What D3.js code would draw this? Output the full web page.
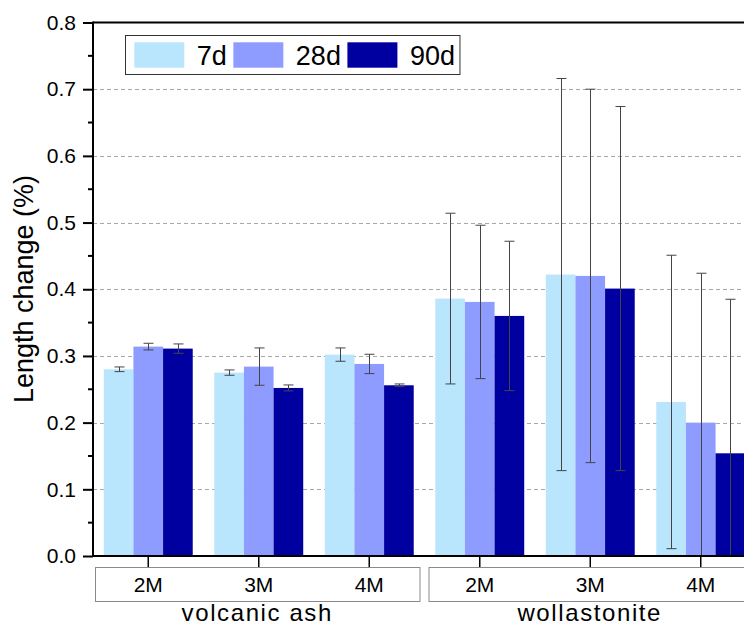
<!DOCTYPE html>
<html>
<head>
<meta charset="utf-8">
<script src="https://cdn.jsdelivr.net/npm/d3@7"></script>
<style>
  html, body { margin: 0; padding: 0; background: #fff; }
  svg { display: block; font-family: Arial, "Liberation Sans", sans-serif; }
</style>
</head>
<body>
<svg id="chart" width="744" height="626"></svg>
<script>
// Length change of mortar bars at 7, 28 and 90 days
const groups = ["volcanic ash", "wollastonite"];
const mixes = ["2M", "3M", "4M"];
const series = ["7d", "28d", "90d"];
const seriesColors = ["#B9E5FD", "#8F9CFF", "#0000A0"];

// values per category: volcanic ash 2M,3M,4M then wollastonite 2M,3M,4M
const values7d  = [0.280, 0.275, 0.302, 0.386, 0.422, 0.231];
const values28d = [0.314, 0.284, 0.288, 0.381, 0.420, 0.200];
const values90d = [0.311, 0.252, 0.256, 0.360, 0.401, 0.154];
const err7d  = [0.0035, 0.004, 0.010, 0.128, 0.294, 0.220];
const err28d = [0.005, 0.028, 0.0145, 0.115, 0.280, 0.224];
const err90d = [0.007, 0.0045, 0.002, 0.112, 0.273, 0.231];

const yTicks = [0, 0.1, 0.2, 0.3, 0.4, 0.5, 0.6, 0.7, 0.8];
const yLabel = "Length change (%)";

const seriesValues = [values7d, values28d, values90d];
const seriesErrors = [err7d, err28d, err90d];

const categories = [];
groups.forEach(g => mixes.forEach(m => categories.push({ key: g + "|" + m, group: g, mix: m })));

const svg = d3.select("#chart");
const plotLeft = 93, plotTop = 22.5, plotBottom = 556, plotRight = 756;

const x = d3.scaleBand()
  .domain(categories.map(c => c.key))
  .range([plotLeft, plotRight])
  .paddingInner(0.195)
  .paddingOuter(0.0975);
const xs = d3.scaleBand().domain(series).range([0, x.bandwidth()]);
const y = d3.scaleLinear().domain([0, 0.8]).range([plotBottom, plotTop]);

svg.append("defs").append("clipPath").attr("id", "plotClip")
  .append("rect").attr("x", plotLeft).attr("y", plotTop)
  .attr("width", plotRight - plotLeft).attr("height", plotBottom - plotTop);

// dashed grid
svg.append("g").selectAll("line")
  .data(yTicks.filter(t => t > 0 && t < 0.8))
  .join("line")
  .attr("x1", plotLeft).attr("x2", plotRight)
  .attr("y1", d => Math.round(y(d)) + 0.5).attr("y2", d => Math.round(y(d)) + 0.5)
  .attr("stroke", "#a8a8a8").attr("stroke-width", 1).attr("stroke-dasharray", "4,3");

// bars
const plot = svg.append("g").attr("clip-path", "url(#plotClip)");
series.forEach((s, si) => {
  plot.append("g").selectAll("rect")
    .data(categories)
    .join("rect")
    .attr("x", d => x(d.key) + xs(s))
    .attr("y", (d, i) => y(seriesValues[si][i]))
    .attr("width", xs.bandwidth())
    .attr("height", (d, i) => plotBottom - y(seriesValues[si][i]))
    .attr("fill", seriesColors[si]);
});

// error bars
series.forEach((s, si) => {
  const g = plot.append("g").attr("stroke", "#444").attr("stroke-width", 1);
  categories.forEach((d, i) => {
    const cx = Math.round(x(d.key) + xs(s) + xs.bandwidth() / 2) + 0.5;
    const v = seriesValues[si][i], e = seriesErrors[si][i];
    const y1 = y(v + e), y2 = y(v - e);
    g.append("line").attr("x1", cx).attr("x2", cx).attr("y1", y1).attr("y2", y2);
    g.append("line").attr("x1", cx - 5).attr("x2", cx + 5).attr("y1", y1).attr("y2", y1);
    g.append("line").attr("x1", cx - 5).attr("x2", cx + 5).attr("y1", y2).attr("y2", y2);
  });
});

// y axis with major and minor ticks
const yAxis = svg.append("g").attr("transform", `translate(${plotLeft},0)`)
  .call(d3.axisLeft(y).tickValues(yTicks).tickFormat(d3.format(".1f")).tickSize(10).tickPadding(7));
yAxis.select(".domain").remove();
yAxis.selectAll(".tick line").attr("stroke", "#000").attr("stroke-width", 2);
yAxis.selectAll(".tick text").attr("font-size", 21).attr("fill", "#000")
  .attr("font-family", "Arial, 'Liberation Sans', sans-serif");
const minorTicks = d3.range(0.05, 0.8, 0.1);
svg.append("g").selectAll("line").data(minorTicks).join("line")
  .attr("x1", plotLeft - 5).attr("x2", plotLeft)
  .attr("y1", d => y(d)).attr("y2", d => y(d))
  .attr("stroke", "#000").attr("stroke-width", 2);

// frame lines: left axis, top, bottom
svg.append("line").attr("x1", plotLeft).attr("x2", plotLeft).attr("y1", plotTop - 1).attr("y2", plotBottom + 1)
  .attr("stroke", "#000").attr("stroke-width", 2);
svg.append("line").attr("x1", plotLeft).attr("x2", 744).attr("y1", plotTop).attr("y2", plotTop)
  .attr("stroke", "#000").attr("stroke-width", 2);
svg.append("line").attr("x1", plotLeft).attr("x2", 744).attr("y1", plotBottom).attr("y2", plotBottom)
  .attr("stroke", "#000").attr("stroke-width", 2);

// x ticks at category centres
svg.append("g").selectAll("line").data(categories).join("line")
  .attr("x1", d => x(d.key) + x.bandwidth() / 2).attr("x2", d => x(d.key) + x.bandwidth() / 2)
  .attr("y1", plotBottom).attr("y2", plotBottom + 11)
  .attr("stroke", "#000").attr("stroke-width", 1.5);

// group boxes with mix labels and group names
const step = x.step();
groups.forEach((g, gi) => {
  const cats = categories.filter(c => c.group === g);
  const start = x(cats[0].key) + x.bandwidth() / 2 - step / 2;
  const end = x(cats[cats.length - 1].key) + x.bandwidth() / 2 + step / 2;
  const x0 = start + (gi === 0 ? 2 : 4), x1 = end - 5;
  svg.append("rect").attr("x", x0 + 0.5).attr("y", 567.5).attr("width", x1 - x0).attr("height", 34)
    .attr("fill", "none").attr("stroke", "#8a8a8a").attr("stroke-width", 1);
  cats.forEach(c => {
    svg.append("text").attr("x", x(c.key) + x.bandwidth() / 2).attr("y", 591.5)
      .attr("text-anchor", "middle").attr("font-size", 21).attr("fill", "#000").text(c.mix);
  });
  svg.append("text").attr("x", (x0 + x1) / 2).attr("y", 621)
    .attr("text-anchor", "middle").attr("font-size", 24).attr("letter-spacing", 1.6)
    .attr("fill", "#000").text(g);
});

// y axis title
svg.append("text").attr("transform", `translate(33,289) rotate(-90)`)
  .attr("text-anchor", "middle").attr("font-size", 27).attr("fill", "#000").text(yLabel);

// legend
const legend = svg.append("g");
const legBox = legend.append("rect").attr("x", 125.5).attr("y", 35.5).attr("height", 39)
  .attr("fill", "#fff").attr("stroke", "#333").attr("stroke-width", 1);
let lx = 134.3;
series.forEach((s, si) => {
  legend.append("rect").attr("x", lx).attr("y", 42.3).attr("width", 50).attr("height", 25.4)
    .attr("fill", seriesColors[si]);
  const t = legend.append("text").attr("x", lx + 62.5).attr("y", 65)
    .attr("font-size", 27).attr("fill", "#000").text(s);
  const w = t.node().getComputedTextLength();
  lx = lx + 62.5 + w + 6.5;
});
legBox.attr("width", lx - 6.5 + 5 - 125.5);
</script>
</body>
</html>
